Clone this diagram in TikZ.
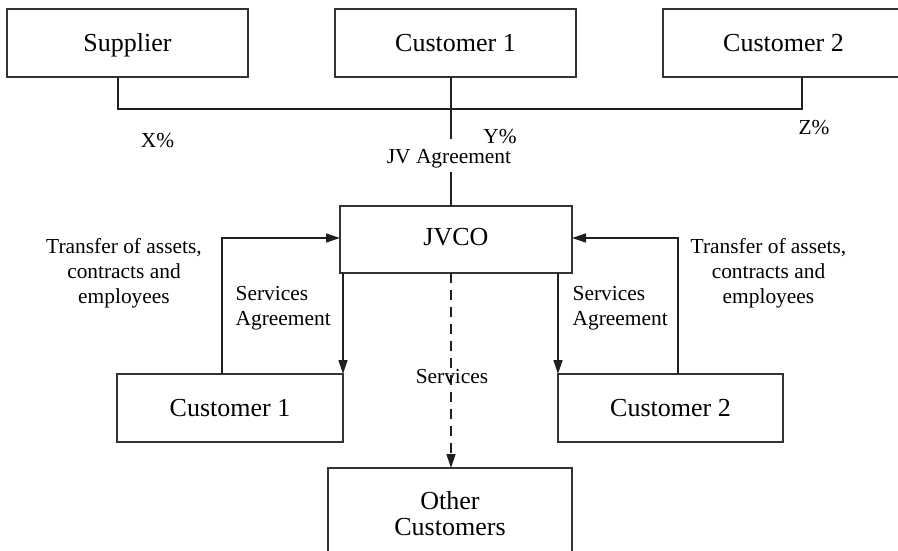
\documentclass[tikz,border=0pt]{standalone}
\usepackage{fontspec}
\setmainfont{Liberation Serif}
\usetikzlibrary{arrows.meta}
\begin{document}
\begin{tikzpicture}[x=1pt,y=-1pt,
  line width=1.3pt,
  box/.style={draw=black!80, line width=1.45pt, inner sep=0pt, outer sep=0pt,
    font=\fontsize{26}{30}\selectfont, align=center},
  onel/.style={text height=17pt, text depth=0pt},
  lbl/.style={inner sep=0pt, font=\fontsize{21.4}{25}\selectfont},
  arr/.style={-{Triangle[length=14pt,width=9pt]}},
  link/.style={draw=black!88}]
\useasboundingbox (0,0) rectangle (898,551);
\clip (0,0) rectangle (898,551);

% owners
\node[box, onel, minimum width=241pt, minimum height=68pt] (sup) at (127.5,43) {Supplier};
\node[box, onel, minimum width=241pt, minimum height=68pt] (c1t) at (455.5,43) {Customer 1};
\node[box, onel, minimum width=241pt, minimum height=68pt] (c2t) at (783.5,43) {Customer 2};

% joint venture and its customers
\node[box, text height=17pt, text depth=6pt, minimum width=232pt, minimum height=67pt] (jvco) at (456,239.5) {JVCO};
\node[box, onel, minimum width=226pt, minimum height=68pt] (c1b) at (230,408) {Customer 1};
\node[box, onel, minimum width=225pt, minimum height=68pt] (c2b) at (670.5,408) {Customer 2};
\node[box, minimum width=244pt, minimum height=92pt] (oc) at (450,514) {Other\\[-4pt]Customers};

% reference points for the connectors
\coordinate (bl) at (118,109);
\coordinate (br) at (802,109);
\coordinate (jvx) at (451,0);
\coordinate (tl) at (222,0);
\coordinate (tr) at (678,0);
\coordinate (ty) at (0,238);

% shareholding labels
\node[lbl, anchor=base] (xp) at (157.5,147) {X\%};
\node[lbl, anchor=base] (yp) at (500,143) {Y\%};
\node[lbl, anchor=base] (zp) at (814,135) {Z\%};
\node[lbl, anchor=base] (jva) at (449,163) {JV Agreement};

% ownership bus
\draw[link] (sup.south -| bl) -- (bl) -- (br) -- (c2t.south -| br);
\draw[link] (c1t.south -| jvx) -- (jvx |- 0,139);
\draw[link] (jvx |- 0,172) -- (jvco.north -| jvx);

% transfers into JVCO
\draw[link, arr] (c1b.north -| tl) |- (jvco.west |- ty);
\draw[link, arr] (c2b.north -| tr) |- (jvco.east |- ty);

% services out of JVCO
\draw[link, arr] (c1b.north east |- jvco.south) -- (c1b.north east);
\draw[link, arr] (c2b.north west |- jvco.south) -- (c2b.north west);
\draw[link, arr, dash pattern=on 10pt off 7pt] (jvco.south -| jvx) -- (oc.north -| jvx);

% flow labels (anchored at the baseline of their last line)
\node[lbl, align=center, anchor=base] (tfl) at (124,303)
  {Transfer of assets,\\contracts and\\employees};
\node[lbl, align=center, anchor=base] (tfr) at (768.5,303)
  {Transfer of assets,\\contracts and\\employees};
\node[lbl, align=left, anchor=base west] (sal) at (235,325)
  {Services\\Agreement};
\node[lbl, align=left, anchor=base west] (sar) at (572,325)
  {Services\\Agreement};
\node[lbl, anchor=base] (srv) at (452,383) {Services};
\end{tikzpicture}
\end{document}
